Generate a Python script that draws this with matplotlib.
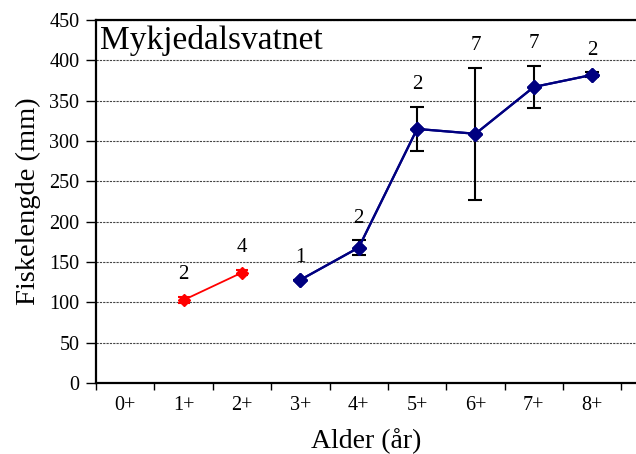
import numpy as np
import matplotlib.pyplot as plt

# Mykjedalsvatnet - fish length by age
ages = ["0+", "1+", "2+", "3+", "4+", "5+", "6+", "7+", "8+"]

# red series (1+, 2+)
red_x = [1, 2]
red_mean = [103, 137]
red_err = [4, 3]
red_n = [2, 4]

# blue series (3+ .. 8+)
blue_x = [3, 4, 5, 6, 7, 8]
blue_mean = [128, 168, 315, 309, 367, 382]
blue_err = [0, 9, 27, 82, 26, 3]
blue_n = [1, 2, 2, 7, 7, 2]

plt.rcParams['font.family'] = ['Liberation Serif', 'DejaVu Serif']

fig = plt.figure(figsize=(6.36, 4.54), dpi=100)
ax = fig.add_axes([0.151, 0.156, 0.849, 0.80])

# grid lines first so markers sit on top
ax.set_axisbelow(True)
ax.yaxis.grid(True, color="#444444", linestyle=(0, (2, 1)), linewidth=0.8)

ax.errorbar(red_x, red_mean, yerr=red_err, color="red", marker="D", ms=6,
            lw=1.3, ecolor="red", elinewidth=1.5, capsize=4, capthick=1.5, zorder=3)
ax.errorbar(blue_x, blue_mean, yerr=blue_err, color="#000080", marker="D", ms=7,
            lw=1.6, ecolor="black", elinewidth=1.5, capsize=5, capthick=1.5, zorder=3)
# blue line drawn over error bars
ax.plot(blue_x, blue_mean, color="#000080", marker="D", ms=7, lw=1.6, zorder=4)

# sample size labels above each point
for x, m, e, n in zip(red_x + blue_x, red_mean + blue_mean, red_err + blue_err, red_n + blue_n):
    ax.annotate(str(n), (x, m + e), xytext=(0, 16), textcoords="offset points",
                ha="center", va="center", fontsize=15)

ax.set_xlim(-0.5, 8.75)
ax.set_ylim(0, 450)
ax.set_yticks(np.arange(0, 451, 50))
ax.tick_params(axis="y", labelsize=14.5, direction="out", length=7, width=1, pad=5)

ax.set_xticks(range(len(ages)))
ax.set_xticklabels(ages)
ax.set_xticks(np.arange(-0.5, 9, 1), minor=True)
ax.tick_params(axis="x", which="major", length=0, labelsize=14.5, pad=9)
ax.tick_params(axis="x", which="minor", length=5, width=1, direction="out")

for s in ["left", "bottom", "top"]:
    ax.spines[s].set_linewidth(1.6)
ax.spines["right"].set_visible(False)

ax.set_ylabel("Fiskelengde (mm)", fontsize=20.5, labelpad=6)
ax.set_xlabel("Alder (år)", fontsize=20, labelpad=10)

ax.text(0.008, 0.985, "Mykjedalsvatnet", transform=ax.transAxes,
        ha="left", va="top", fontsize=24)

plt.savefig("out.png", dpi=100)
